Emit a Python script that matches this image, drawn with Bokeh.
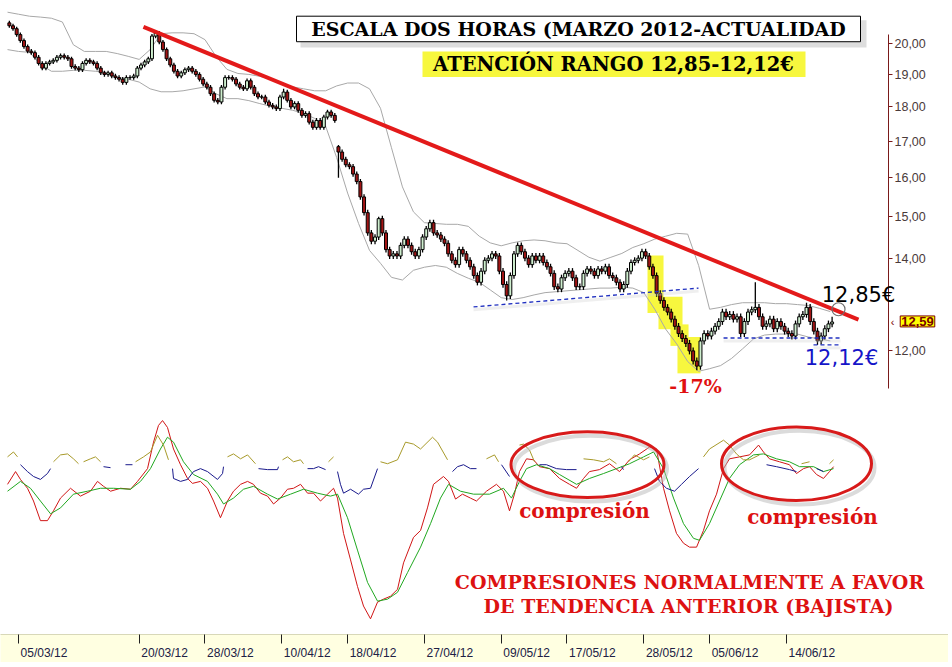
import math
from bokeh.plotting import figure
from bokeh.models import Range1d, LinearScale, FixedTicker, Label, ColumnDataSource
from bokeh.embed import file_html
from bokeh.resources import INLINE

# ------------------------------------------------------------------ data
FIRST_DAY = -1          # trading-day index of the first session shown (02/03/12)
BARS_PER_DAY = 3

tick_days = [0, 11, 17, 24, 30, 37, 44, 50, 57, 63, 70]
tick_labels = ["05/03/12", "20/03/12", "28/03/12", "10/04/12", "18/04/12", "27/04/12",
               "09/05/12", "17/05/12", "28/05/12", "05/06/12", "14/06/12"]

price_ticks = [12, 14, 15, 16, 17, 18, 19, 20]
price_tick_labels = ["12,00", "14,00", "15,00", "16,00", "17,00", "18,00", "19,00", "20,00"]

closes = [
    [20.60, 20.50, 20.30],  # -1
    [20.10, 19.90, 19.75],  # 0  05/03
    [19.70, 19.55, 19.35],
    [19.20, 19.35, 19.40],
    [19.45, 19.55, 19.60],
    [19.55, 19.50, 19.25],
    [19.20, 19.15, 19.35],  # 5
    [19.45, 19.40, 19.35],
    [19.20, 19.05, 19.00],
    [19.05, 18.95, 18.90],
    [18.85, 18.75, 18.90],
    [18.90, 18.95, 19.20],  # 10
    [19.30, 19.40, 19.50],  # 11 20/03
    [20.25, 20.35, 20.05],
    [19.80, 19.50, 19.30],
    [19.10, 18.95, 19.05],
    [19.15, 19.20, 19.10],  # 15
    [19.00, 18.85, 18.70],
    [18.60, 18.40, 18.20],  # 17 28/03
    [18.15, 18.60, 18.90],
    [18.90, 18.85, 18.70],
    [18.60, 18.55, 18.80],  # 20
    [18.60, 18.40, 18.30],
    [18.30, 18.15, 18.05],
    [18.00, 17.95, 18.30],
    [18.45, 18.20, 18.00],  # 24 10/04
    [18.10, 17.90, 17.75],
    [17.80, 17.55, 17.40],
    [17.60, 17.40, 17.70],
    [17.85, 17.75, 17.60],
    [16.70, 16.50, 16.35],  # 29
    [16.30, 16.10, 15.90],  # 30 18/04
    [15.50, 15.10, 14.60],
    [14.40, 14.50, 14.95],
    [14.60, 14.20, 14.05],
    [14.10, 14.05, 14.30],
    [14.45, 14.30, 14.15],  # 35
    [14.05, 14.20, 14.50],
    [14.70, 14.85, 14.60],  # 37 27/04
    [14.55, 14.45, 14.35],
    [14.10, 13.95, 13.85],
    [14.20, 14.10, 13.95],  # 40
    [13.80, 13.60, 13.45],
    [13.70, 13.95, 14.00],
    [14.10, 14.05, 13.70],
    [13.40, 13.15, 13.60],  # 44 09/05
    [14.10, 14.30, 14.15],
    [14.00, 13.85, 14.05],
    [13.95, 14.05, 13.90],
    [13.80, 13.65, 13.35],
    [13.30, 13.55, 13.65],
    [13.70, 13.55, 13.35],  # 50 17/05
    [13.35, 13.65, 13.75],
    [13.70, 13.60, 13.75],
    [13.70, 13.80, 13.60],
    [13.55, 13.45, 13.30],
    [13.40, 13.70, 13.90],  # 55
    [13.95, 14.00, 14.15],
    [14.05, 13.80, 13.60],  # 57 28/05
    [13.20, 13.05, 12.90],
    [12.80, 12.65, 12.50],
    [12.35, 12.25, 12.15],  # 60
    [12.00, 11.80, 11.70],
    [12.20, 12.35, 12.30],
    [12.40, 12.50, 12.60],  # 63 05/06
    [12.80, 12.70, 12.75],
    [12.65, 12.70, 12.35],
    [12.60, 12.80, 12.85],
    [12.90, 12.70, 12.50],
    [12.55, 12.65, 12.45],
    [12.60, 12.50, 12.40],
    [12.35, 12.30, 12.55],  # 70 14/06
    [12.70, 12.75, 12.90],
    [12.60, 12.40, 12.20],
    [12.30, 12.45, 12.55],
    [12.59],                # 74
]
open_override = {(-1, 0): 20.70, (29, 0): 16.85}
high_override = {(12, 1): 20.45, (24, 0): 18.55, (32, 2): 15.00, (37, 1): 14.92,
                 (56, 2): 14.22, (67, 0): 13.45, (71, 2): 13.00, (74, 0): 12.70, (29, 0): 16.90}
low_override = {(29, 0): 16.00, (44, 1): 13.05, (61, 2): 11.62, (72, 2): 12.12}

band_upper = [21.07, 21.00, 20.93, 20.90, 20.86, 20.73, 19.96, 19.74, 19.74, 19.74,
              19.67, 19.58, 19.48, 19.80, 20.33, 20.36, 20.36, 20.33, 20.13, 19.58,
              19.16, 19.03, 19.00, 18.94, 18.85, 18.70, 18.61, 18.55, 18.49, 18.49,
              18.64, 18.73, 18.73, 18.55, 17.96, 16.82, 15.76, 15.12, 14.85, 14.83,
              14.81, 14.81, 14.76, 14.52, 14.36, 14.29, 14.36, 14.41, 14.43, 14.41,
              14.36, 14.34, 14.18, 14.02, 13.93, 14.02, 14.11, 14.25, 14.34, 14.45,
              14.52, 14.59, 14.57, 13.83, 12.86, 12.90, 12.96, 13.00, 13.00, 13.00,
              12.98, 12.98, 12.96, 12.94, 12.88, 12.81]
band_lower = [19.80, 19.74, 19.71, 19.32, 19.10, 19.10, 19.13, 19.13, 19.10, 19.07,
              18.91, 18.85, 18.76, 18.55, 18.46, 18.46, 18.49, 18.55, 18.61, 18.40,
              18.25, 18.25, 18.19, 18.10, 18.02, 17.96, 17.90, 17.81, 17.66, 17.43,
              16.55, 15.60, 14.83, 14.18, 13.88, 13.56, 13.50, 13.72, 13.79, 13.83,
              13.79, 13.65, 13.54, 13.45, 13.28, 13.11, 13.07, 13.11, 13.17, 13.22,
              13.24, 13.26, 13.28, 13.30, 13.32, 13.32, 13.34, 13.32, 13.22, 12.86,
              12.44, 12.14, 11.79, 11.60, 11.65, 11.71, 11.85, 12.04, 12.24, 12.32,
              12.34, 12.34, 12.34, 12.28, 12.24, 12.20]

trend_x = [11.39, 76.57]
trend_y = [20.56, 12.64]
support1_x = [41.48, 61.99]
support1_y = [12.91, 13.32]
support2_x = [64.27, 74.93]
support2_y = [12.26, 12.26]
support3_x = [72.47, 74.93]
support3_y = [12.12, 12.12]

hl_left = [57.34, 58.34, 59.43, 60.07]
hl_right = [58.80, 60.53, 61.08, 62.17]
hl_top = [14.06, 13.13, 12.54, 12.28]
hl_bottom = [12.78, 12.44, 12.10, 11.56]

mark_x = [74.75]
mark_y = [12.86]
last_price = "12,59"

red_line = [(-1.0, 68.5), (-0.27, 75), (0.18, 71), (0.82, 66.5), (1.37, 60), (2.0, 50), (2.64, 50),
            (3.19, 55), (3.83, 61.5), (4.74, 66.5), (5.65, 62.5), (6.56, 65), (7.2, 70), (7.75, 67.5),
            (8.39, 65), (9.3, 66.5), (10.21, 66), (10.85, 70), (11.76, 76.5), (12.31, 90), (12.76, 98.5),
            (13.13, 101), (13.58, 97.5), (14.13, 86.5), (14.77, 78.5), (15.41, 71.5), (15.86, 69),
            (16.59, 70), (17.23, 66.5), (17.78, 60), (18.41, 51.5), (19.05, 60), (19.6, 65), (20.24, 68.5),
            (20.88, 70), (21.42, 68.5), (22.06, 64), (22.7, 62.5), (23.25, 58.5), (23.88, 61.5),
            (24.52, 66), (25.07, 66.5), (25.71, 68.5), (26.35, 64), (26.89, 64), (27.53, 60),
            (28.17, 63.5), (28.72, 66.5), (29.08, 61.5), (29.63, 43.5), (30.27, 30), (30.9, 16.5),
            (31.45, 6.5), (32.09, 0), (32.73, 8.5), (33.27, 10), (33.91, 11.5), (34.55, 15), (35.1, 28.5),
            (36.01, 41.5), (36.65, 45), (37.28, 56.5), (37.83, 68.5), (38.74, 72.5), (39.2, 70),
            (39.84, 61), (40.47, 63.5), (41.2, 61.5), (41.75, 60), (42.66, 65), (43.57, 68.5),
            (44.21, 65), (44.76, 55), (45.21, 63.5), (45.67, 75), (46.31, 81.5), (46.95, 81),
            (47.49, 77.5), (48.41, 76.5), (49.32, 71.5), (50.23, 68.5), (50.87, 66.5), (51.51, 71.5),
            (52.05, 75), (52.96, 76), (53.88, 79), (54.79, 75), (55.7, 81), (56.61, 84), (57.52, 87.5),
            (58.16, 86.5), (58.8, 66.5), (59.35, 55), (59.98, 43.5), (60.62, 38.5), (61.17, 36.5),
            (61.81, 36.5), (62.44, 45), (62.99, 55), (63.63, 63.5), (64.27, 76.5), (64.81, 81.5),
            (65.73, 82.5), (66.64, 83.5), (67.46, 88.5), (67.91, 85), (68.46, 81.5), (69.37, 80),
            (70.28, 78.5), (70.92, 74), (71.56, 76.5), (72.11, 77.5), (72.75, 73.5), (73.38, 71.5),
            (73.93, 75), (74.3, 77.5)]

green_line = [(-1.0, 65), (0.18, 70), (1.09, 66.5), (2.0, 60), (2.92, 53.5), (3.83, 56.5), (5.01, 63.5),
              (6.29, 65), (7.47, 66.5), (8.66, 66.5), (10.21, 66), (11.12, 70), (12.03, 76.5),
              (12.94, 86.5), (13.58, 92.5), (14.13, 90), (15.04, 80), (15.95, 73.5), (17.23, 70),
              (18.14, 63.5), (18.69, 58.5), (19.6, 61.5), (20.51, 66), (21.42, 67.5), (22.7, 63.5),
              (23.61, 61), (24.8, 63.5), (25.98, 66), (27.26, 64), (28.44, 62.5), (29.08, 63.5),
              (29.99, 51.5), (30.9, 35), (31.82, 18.5), (32.73, 9), (33.64, 10), (34.55, 13.5),
              (35.46, 23.5), (36.65, 36.5), (37.56, 48.5), (38.47, 61.5), (39.2, 68.5), (40.29, 65),
              (41.48, 63.5), (42.94, 63.5), (44.21, 66.5), (44.94, 61.5), (45.67, 70), (46.31, 76.5),
              (47.22, 78.5), (48.41, 76.5), (49.32, 73.5), (50.87, 68.5), (52.05, 71.5), (53.33, 74),
              (54.51, 76.5), (55.7, 79), (56.98, 82.5), (57.89, 85), (58.8, 76.5), (59.71, 61.5),
              (60.62, 48.5), (61.53, 41), (62.08, 40), (62.99, 48.5), (63.9, 60), (64.81, 71.5),
              (65.73, 78.5), (67.0, 83.5), (67.91, 84), (69.1, 81.5), (70.28, 80), (71.2, 77.5),
              (72.48, 77.5), (73.38, 75), (74.3, 76.5)]

osc_line = [(-1.0, 82.5), (-0.46, 85), (-0.09, 82.5), (0.18, 78.5), (0.82, 75), (1.37, 72.5), (2.0, 71),
            (2.64, 74), (2.92, 76.5), (3.19, 80), (3.83, 83.5), (4.47, 84), (5.01, 81.5), (5.47, 79),
            (5.65, 77.5), (5.93, 80), (6.56, 81.5), (7.02, 82.5), (7.48, 80), (7.75, 77.5), (8.39, 77),
            (8.84, 79), (9.75, 78.5), (10.39, 78.5), (10.67, 80), (11.4, 82.5), (12.03, 85), (12.67, 93.5),
            (13.22, 88.5), (13.67, 81), (14.04, 76.5), (14.13, 71.5), (14.77, 70), (15.41, 71),
            (15.95, 75), (16.59, 76.5), (17.23, 75), (18.14, 71), (18.6, 74), (18.69, 77.5),
            (19.05, 82.5), (19.6, 84), (20.24, 81.5), (20.88, 83.5), (21.6, 79), (21.88, 76.5),
            (22.7, 76), (23.61, 76), (23.7, 77.5), (24.07, 81), (24.52, 82.5), (25.07, 80), (25.71, 81),
            (25.98, 79), (26.35, 76.5), (26.89, 76.5), (27.35, 77.5), (27.99, 76), (28.26, 80),
            (28.72, 82.5), (29.08, 75), (29.35, 68.5), (29.63, 64), (30.27, 66), (30.99, 63.5),
            (31.45, 66), (32.09, 66.5), (32.73, 76.5), (33.0, 80), (33.64, 79), (34.55, 81), (35.28, 90),
            (36.01, 89), (36.65, 86.5), (37.74, 92.5), (38.2, 90), (39.11, 81), (39.56, 75), (40.02, 77.5),
            (40.57, 78.5), (41.2, 76.5), (41.75, 76.5), (42.66, 81.5), (43.39, 83.5), (43.76, 80),
            (44.03, 78.5), (44.76, 72.5), (45.67, 88.5), (46.04, 89), (46.58, 86), (47.04, 80),
            (47.49, 78.5), (48.13, 78.5), (49.04, 76.5), (49.96, 76), (50.87, 76), (51.51, 81.5),
            (52.42, 81), (53.33, 80), (53.88, 81.5), (54.51, 79), (54.97, 77.5), (55.15, 76), (55.61, 80),
            (56.15, 83.5), (56.98, 81), (57.52, 82.5), (57.98, 76.5), (58.43, 70), (59.07, 66.5),
            (59.8, 65), (60.44, 68.5), (61.17, 72.5), (61.99, 76.5), (62.44, 82.5), (62.99, 86.5),
            (64.27, 91), (64.81, 88.5), (65.45, 84), (66.09, 81), (66.64, 81), (67.55, 83.5),
            (68.19, 78.5), (69.1, 77.5), (70.28, 76), (70.92, 75), (71.38, 79), (72.11, 80),
            (72.75, 76.5), (73.38, 75), (73.93, 79), (74.3, 81)]
osc_split = 78.75   # above: olive, below: navy

# ------------------------------------------------------------------ figure
W, H = 948, 662
FRAME_B = 646                      # frame bottom in canvas px
p = figure(width=W, height=H, output_backend="svg", toolbar_location=None, title=None,
           x_range=Range1d(-1.6408, 84.777), y_range=Range1d(7.4893, 21.484),
           y_axis_type="log", y_axis_location="right",
           min_border_left=0, min_border_right=0, min_border_top=0, min_border_bottom=H - FRAME_B,
           background_fill_color="white", border_fill_color="white", outline_line_color=None)
p.extra_x_ranges = {"px": Range1d(0, W)}
p.extra_x_scales = {"px": LinearScale()}
p.extra_y_ranges = {"ind": Range1d(-8, 315), "py": Range1d(FRAME_B, 0)}
p.extra_y_scales = {"ind": LinearScale(), "py": LinearScale()}
p.grid.visible = False

# price axis (drawn at a fixed x inside the frame)
ya = p.yaxis[0]
ya.fixed_location = 79.307
ya.ticker = FixedTicker(ticks=price_ticks)
ya.major_label_overrides = {t: s for t, s in zip(price_ticks, price_tick_labels)}
ya.bounds = (11.28, 20.3)
ya.axis_line_color = "#7A1A1A"
ya.major_tick_line_color = "#7A1A1A"
ya.major_tick_out = 4
ya.major_tick_in = 0
ya.minor_tick_line_color = None
ya.major_label_standoff = 2
ya.major_label_text_font = "Liberation Sans"
ya.major_label_text_font_size = "12.5px"
ya.major_label_text_color = "#4A3A3A"

label_pos = [round(t + 2.32, 3) for t in tick_days]
xa = p.xaxis[0]
xa.ticker = FixedTicker(ticks=label_pos, minor_ticks=tick_days)
xa.major_label_overrides = {lp: lab for lp, lab in zip(label_pos, tick_labels)}
xa.major_tick_out = 0
xa.major_tick_in = 0
xa.minor_tick_out = 9
xa.minor_tick_in = 0
xa.minor_tick_line_color = "#202020"
xa.axis_line_color = "#D8D8B8"
xa.major_label_standoff = 2
xa.major_label_text_font = "Liberation Sans"
xa.major_label_text_font_size = "12px"
xa.major_label_text_color = "#202045"
xa.background_fill_color = "#FFFFE1"

# yellow highlight steps
p.quad(left=hl_left, right=hl_right, top=hl_top, bottom=hl_bottom,
       fill_color="#F7F73E", line_color=None)

# bollinger bands
band_x = [FIRST_DAY + i for i in range(len(band_upper))]
p.line(band_x, band_upper, line_color="#A8A8A8", line_width=1)
p.line(band_x, band_lower, line_color="#A8A8A8", line_width=1)

# candles
xs, opens, highs, lows, cls, cols = [], [], [], [], [], []
prev = None
for di, day in enumerate(closes):
    d = FIRST_DAY + di
    for k, c in enumerate(day):
        x = d + (k + 0.5) / BARS_PER_DAY
        o = open_override.get((d, k), prev if prev is not None else c)
        h = high_override.get((d, k), max(o, c) + 0.07)
        lo = low_override.get((d, k), min(o, c) - 0.07)
        xs.append(x); opens.append(o); cls.append(c); highs.append(h); lows.append(lo)
        cols.append("#CFEFCF" if c >= o else "#A31515")
        prev = c
csrc = ColumnDataSource(dict(x=xs, o=opens, c=cls, h=highs, l=lows,
                             top=[max(a, b) for a, b in zip(opens, cls)],
                             bot=[min(a, b) for a, b in zip(opens, cls)], col=cols))
p.segment(x0="x", y0="l", x1="x", y1="h", source=csrc, line_color="black", line_width=1.3)
p.vbar(x="x", width=0.27, top="top", bottom="bot", source=csrc,
       fill_color="col", line_color="black", line_width=1)

# support lines (with faint shadow)
sh = math.exp(-3 / 613)
for sx, sy in [(support1_x, support1_y), (support2_x, support2_y), (support3_x, support3_y)]:
    p.line(sx, [v * sh for v in sy], line_color="#D0D0D0", line_width=3, line_alpha=0.35)
    p.line(sx, sy, line_color="#2030C0", line_width=1.3, line_dash="4 3")

# trend line
p.line(trend_x, trend_y, line_color="#E31A1A", line_width=4)

# mark circle at 12,85
p.scatter(mark_x, mark_y, marker="circle", size=13, fill_color=None,
          line_color="#707070", line_width=1.2)

# indicator panel
p.line([a for a, b in red_line], [b for a, b in red_line], y_range_name="ind",
       line_color="#D01515", line_width=1)
p.line([a for a, b in green_line], [b for a, b in green_line], y_range_name="ind",
       line_color="#20A820", line_width=1)
sx0, sy0, sx1, sy1, scol = [], [], [], [], []
for (xa0, va), (xb0, vb) in zip(osc_line[:-1], osc_line[1:]):
    if va >= osc_split and vb >= osc_split:
        scol.append("#A89A2A")
    elif va < osc_split and vb < osc_split:
        scol.append("#1A1A8C")
    else:
        continue
    sx0.append(xa0); sy0.append(va); sx1.append(xb0); sy1.append(vb)
p.segment(x0=sx0, y0=sy0, x1=sx1, y1=sy1, line_color=scol, line_width=1, y_range_name="ind")

# ellipses (pixel frame)
for cx, cy, w, hgt in [(587, 473, 153, 67), (796, 472, 150, 75)]:
    p.ellipse(x=[cx + 3], y=[cy + 4], width=[w], height=[hgt], fill_color=None,
              line_color="#B8B8B8", line_width=4, line_alpha=0.5,
              x_range_name="px", y_range_name="py")
    p.ellipse(x=[cx], y=[cy], width=[w], height=[hgt], fill_color=None,
              line_color="#D81A1A", line_width=3, x_range_name="px", y_range_name="py")

# title boxes
p.quad(left=[300], right=[866], top=[20], bottom=[48], fill_color="#D4D4D4",
       line_color=None, fill_alpha=0.8, x_range_name="px", y_range_name="py")
p.quad(left=[296], right=[860], top=[16], bottom=[42], fill_color="white",
       line_color="black", line_width=1, x_range_name="px", y_range_name="py")
p.quad(left=[422], right=[805], top=[52], bottom=[78], fill_color="#F7F73E",
       line_color=None, x_range_name="px", y_range_name="py")


def lab(x, y, text, size, color, font="DejaVu Serif", style="bold", **kw):
    p.add_layout(Label(x=x, y=y, x_range_name="px", y_range_name="py", text=text,
                       text_align="center", text_baseline="middle", text_font=font,
                       text_font_style=style, text_font_size=size, text_color=color, **kw))


lab(578, 29, "ESCALA DOS HORAS (MARZO 2012-ACTUALIDAD", "19px", "black")
lab(613, 65, "ATENCIÓN RANGO 12,85-12,12€", "19.5px", "black")
lab(858, 300, "12,85€", "21px", "black", font="DejaVu Sans", style="normal")
lab(841, 364, "12,12€", "21px", "#1515C8", font="DejaVu Sans", style="normal")
lab(695, 393, "-17%", "19px", "#E01010")
lab(584, 520, "compresión", "20px", "#DD1111")
lab(812, 526, "compresión", "20px", "#DD1111")
lab(689, 593, "COMPRESIONES NORMALMENTE A FAVOR", "19px", "#DD1111")
lab(688, 617, "DE TENDENCIA ANTERIOR (BAJISTA)", "19px", "#DD1111")
lab(892, 328, "‹", "11px", "#7A0000", font="Liberation Sans", style="normal")
lab(917, 327, last_price, "13px", "#7A0000", font="Liberation Sans",
    background_fill_color="#FFFF00", border_line_color="#7A0000", padding=1)

open("out.html", "w").write(file_html(p, INLINE))
